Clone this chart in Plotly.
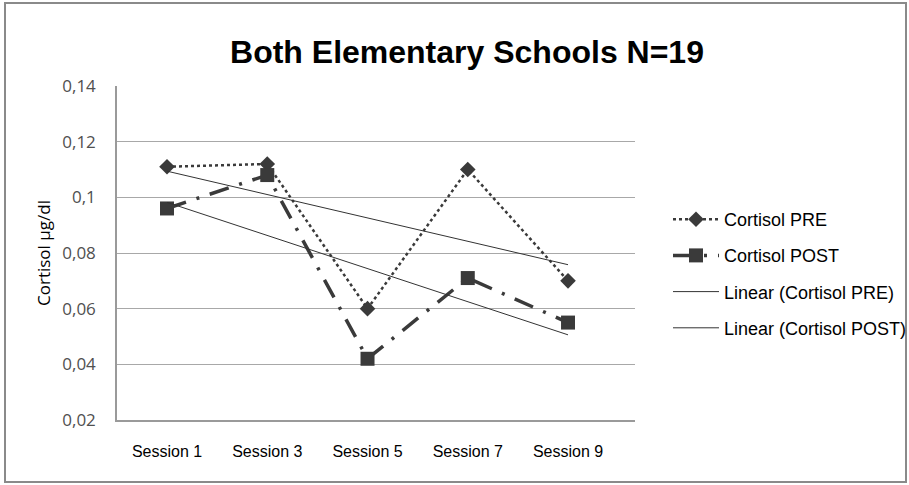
import numpy as np
import plotly.graph_objects as go

categories = ["Session 1", "Session 3", "Session 5", "Session 7", "Session 9"]
cortisol_pre = [0.111, 0.112, 0.060, 0.110, 0.070]
cortisol_post = [0.096, 0.108, 0.042, 0.071, 0.055]
y_tickvals = [0.02, 0.04, 0.06, 0.08, 0.10, 0.12, 0.14]
y_ticktext = ["0,02", "0,04", "0,06", "0,08", "0,1", "0,12", "0,14"]

W, H = 909, 485
L, R, T, B = 117, 274, 86, 65
pw, ph = W - L - R, H - T - B

xi = np.arange(len(categories))
def trend(vals):
    s, c = np.polyfit(xi, vals, 1)
    return list(s * xi + c)

dark = "#3a3a3a"
fig = go.Figure()
fig.add_trace(go.Scatter(x=categories, y=cortisol_pre, name="Cortisol PRE", mode="lines+markers",
                         line=dict(color=dark, width=2.5, dash="dot"),
                         marker=dict(symbol="diamond", size=12, color=dark),
                         legendgroup="a"))
fig.add_trace(go.Scatter(x=categories, y=cortisol_post, name="Cortisol POST", mode="lines+markers",
                         line=dict(color=dark, width=3.5, dash="20px,11px,3px,11px"),
                         marker=dict(symbol="square", size=14, color=dark),
                         legendgroup="b"))
fig.add_trace(go.Scatter(x=categories, y=trend(cortisol_pre), name="Linear (Cortisol PRE)", mode="lines",
                         line=dict(color="#333333", width=1), legendgroup="c"))
fig.add_trace(go.Scatter(x=categories, y=trend(cortisol_post), name="Linear (Cortisol POST)", mode="lines",
                         line=dict(color="#333333", width=1), legendgroup="d"))

def px2paper(x, y):
    return (x - L) / pw, (H - B - y) / ph

x0, y0 = px2paper(5, 482)
x1, y1 = px2paper(906, 3)
fig.add_shape(type="rect", xref="paper", yref="paper", x0=x0, y0=y0, x1=x1, y1=y1,
              line=dict(color="#8a8a8a", width=2), layer="below")

lx, ly = px2paper(668, 201)
fig.update_layout(
    width=W, height=H,
    margin=dict(l=L, r=R, t=T, b=B, autoexpand=False),
    paper_bgcolor="white", plot_bgcolor="white",
    title=dict(text="<b>Both Elementary Schools N=19</b>", x=(467) / W, xanchor="center",
               y=1 - 52 / H, yanchor="middle",
               font=dict(family="Arial, Liberation Sans", size=32, color="black")),
    font=dict(family="Arial, Liberation Sans", color="black"),
    legend=dict(x=lx, y=ly, xanchor="left", yanchor="top", tracegroupgap=9.8, itemwidth=46,
                font=dict(family="Arial, Liberation Sans", size=18, color="black"),
                bgcolor="rgba(0,0,0,0)"),
    showlegend=True,
)
fig.update_xaxes(range=[-0.4988, 4.668], showgrid=False, showline=True, linecolor="#9a9a9a",
                 linewidth=1.5, ticks="", ticklabelstandoff=16, automargin=False,
                 tickfont=dict(family="Arial, Liberation Sans", size=16, color="black"))
fig.update_yaxes(range=[0.02, 0.14], tickvals=y_tickvals, ticktext=y_ticktext,
                 showgrid=True, gridcolor="#a8a8a8", gridwidth=1, automargin=False,
                 showline=True, linecolor="#9a9a9a", linewidth=1.5, ticks="", ticklabelstandoff=16,
                 zeroline=False,
                 tickfont=dict(family="Open Sans", size=17, color="#505050"),
                 title=dict(text="Cortisol µg/dl", standoff=7,
                            font=dict(family="Open Sans", size=17, color="black")))

fig.write_html("out.html", config={"displayModeBar": False},
               post_script="document.body.style.margin='0';")
